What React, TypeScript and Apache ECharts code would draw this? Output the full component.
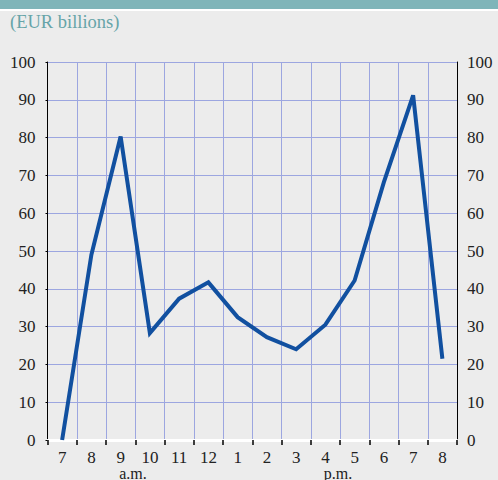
import React, { useEffect, useRef } from "react";
import * as echarts from "echarts";

const hours = ["7", "8", "9", "10", "11", "12", "1", "2", "3", "4", "5", "6", "7", "8"];
const values = [0, 49, 80.3, 28.3, 37.4, 41.7, 32.5, 27.2, 24, 30.5, 42.2, 68.2, 91.2, 21.5];
const yTicks = { min: 0, max: 100, interval: 10 };
const title = "(EUR billions)";
const periodLabels = ["a.m.", "p.m."];

const FONT = "'Liberation Serif', 'Times New Roman', serif";

export default function App() {
  const ref = useRef<HTMLDivElement>(null);
  useEffect(() => {
    if (!ref.current) return;
    const chart = echarts.init(ref.current, null, { renderer: "svg" });
    const yAxisCommon = {
      type: "value" as const,
      min: yTicks.min,
      max: yTicks.max,
      interval: yTicks.interval,
      axisLine: { show: true, lineStyle: { color: "#000", width: 1 } },
      axisLabel: { color: "#222", fontFamily: FONT, fontSize: 17 },
    };
    chart.setOption({
      animation: false,
      backgroundColor: "#ececec",
      grid: { left: 47.5, right: 41, top: 62, bottom: 40, containLabel: false },
      xAxis: {
        type: "category",
        data: hours,
        boundaryGap: true,
        axisLine: { show: true, lineStyle: { color: "#ffffff", width: 3 } },
        axisTick: { show: true, length: 5, lineStyle: { color: "#000", width: 1.5 } },
        axisLabel: { color: "#222", fontFamily: FONT, fontSize: 17, margin: 9 },
        splitLine: { show: true, lineStyle: { color: "#9ca6e0", width: 1 } },
      },
      yAxis: [
        {
          ...yAxisCommon,
          position: "left",
          axisTick: { show: true, length: 2, lineStyle: { color: "#000" } },
          axisLabel: { ...yAxisCommon.axisLabel, margin: 12 },
          splitLine: { show: true, lineStyle: { color: "#9ca6e0", width: 1 } },
        },
        {
          ...yAxisCommon,
          position: "right",
          axisTick: { show: false },
          axisLabel: { ...yAxisCommon.axisLabel, margin: 10 },
          splitLine: { show: false },
        },
      ],
      series: [
        {
          type: "line",
          data: values,
          yAxisIndex: 0,
          symbol: "none",
          lineStyle: { color: "#1150a0", width: 4, join: "miter" },
          z: 5,
        },
      ],
      graphic: [
        { type: "rect", shape: { x: 0, y: 0, width: 498, height: 9 }, style: { fill: "#7fb5b9" } },
        { type: "rect", shape: { x: 0, y: 9, width: 498, height: 2 }, style: { fill: "#ffffff" } },
        {
          type: "text",
          x: 10,
          y: 22,
          style: { text: title, fill: "#66a4a8", font: `18.5px ${FONT}`, verticalAlign: "middle" },
        },
        {
          type: "text",
          x: 133,
          y: 473,
          style: { text: periodLabels[0], fill: "#222", font: `16px ${FONT}`, align: "center", verticalAlign: "middle" },
        },
        {
          type: "text",
          x: 338,
          y: 473,
          style: { text: periodLabels[1], fill: "#222", font: `16px ${FONT}`, align: "center", verticalAlign: "middle" },
        },
      ],
    });
    return () => chart.dispose();
  }, []);
  return <div ref={ref} style={{ position: "fixed", left: 0, top: 0, width: 498, height: 480 }} />;
}
